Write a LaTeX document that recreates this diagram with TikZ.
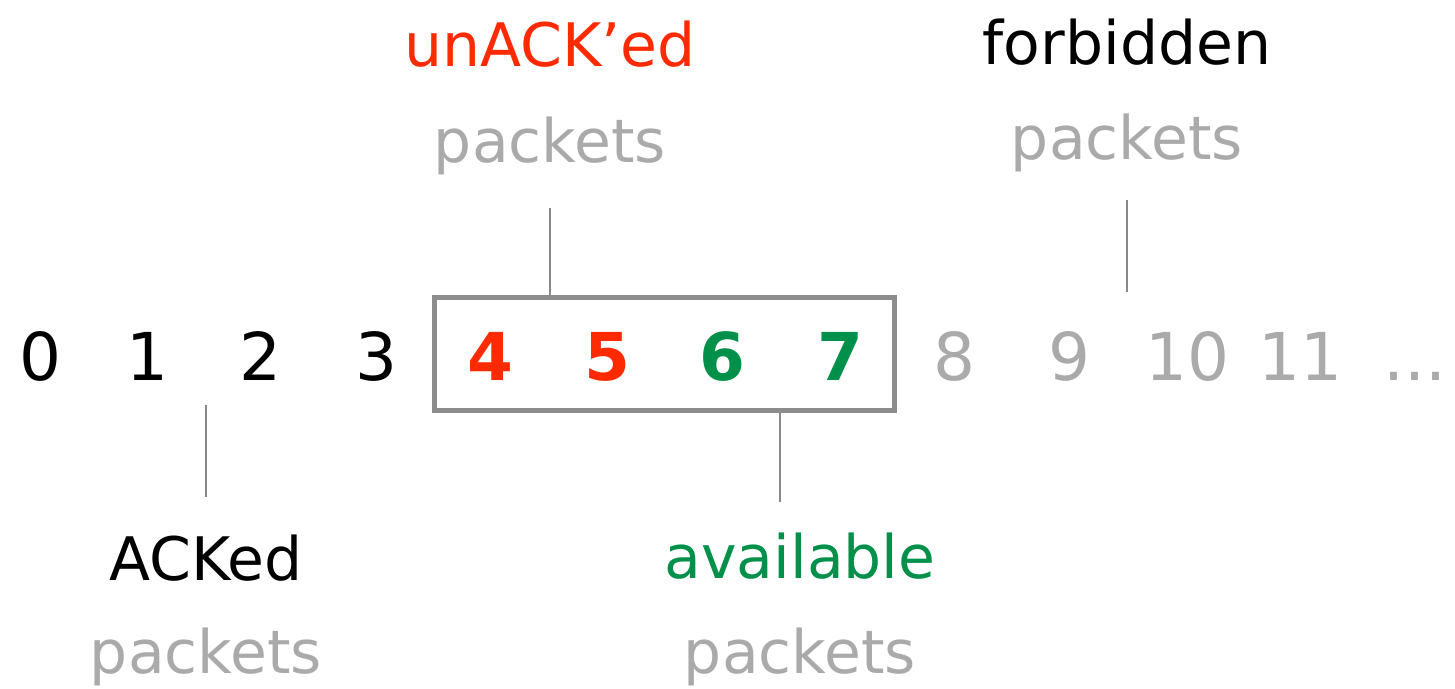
\documentclass[tikz,border=0pt]{standalone}
\usepackage{fontspec}
\setmainfont{DejaVu Sans}
\definecolor{unack}{HTML}{FF2A00}
\definecolor{avail}{HTML}{00904A}
\definecolor{lgray}{HTML}{AAAAAA}
\definecolor{bgray}{HTML}{8C8C8C}
\definecolor{lnk}{HTML}{888888}
\begin{document}
\begin{tikzpicture}[x=0.5pt,y=-0.5pt,
  txt/.style={anchor=base,inner sep=0pt,font=\fontsize{30pt}{36pt}\selectfont},
  num/.style={anchor=base,inner sep=0pt,font=\fontsize{33pt}{38pt}\selectfont},
  bnum/.style={num,font=\fontsize{33pt}{38pt}\selectfont\bfseries},
  conn/.style={draw=lnk,line width=1.3pt},
  winbox/.style={draw=bgray,line width=2.5pt,inner sep=0pt}]
\useasboundingbox (0,0) rectangle (1455,689);
% numbers
\node[num] (n0) at (40,380) {0};
\node[num] (n1) at (147,380) {1};
\node[num] (n2) at (260,380) {2};
\node[num] (n3) at (376,380) {3};
\node[bnum,text=unack] (n4) at (490,380) {4};
\node[bnum,text=unack] (n5) at (607,380) {5};
\node[bnum,text=avail] (n6) at (722,380) {6};
\node[bnum,text=avail] (n7) at (840,380) {7};
\node[num,text=lgray] (n8) at (954,380) {8};
\node[num,text=lgray] (n9) at (1069,380) {9};
\node[num,text=lgray] (n10) at (1187,380) {10};
\node[num,text=lgray] (n11) at (1300,380) {11};
\node[num,text=lgray] (ndots) at (1415,380) {...};
% window box
\node[winbox,minimum width=230pt,minimum height=56pt] (win) at (664,354) {};
% labels
\node[txt,text=unack] (unackT) at (550,67) {unACK’ed};
\node[txt,text=lgray] (unackP) at (550,163) {packets};
\node[txt] (forbT) at (1127,65) {forbidden};
\node[txt,text=lgray] (forbP) at (1127,160) {packets};
\node[txt] (ackT) at (206,580) {ACKed};
\node[txt,text=lgray] (ackP) at (206,673) {packets};
\node[txt,text=avail] (availT) at (800,578) {available};
\node[txt,text=lgray] (availP) at (800,673) {packets};
% connectors
\coordinate (c1) at (550,208);
\coordinate (c2) at (1127,200);
\coordinate (c3) at (1127,292);
\coordinate (c4) at (206,405);
\coordinate (c5) at (206,497);
\coordinate (c6) at (780,502);
\draw[conn] (c1) -- (c1 |- win.north);
\draw[conn] (c2) -- (c3);
\draw[conn] (c4) -- (c5);
\draw[conn] (c6 |- win.south) -- (c6);
\end{tikzpicture}
\end{document}
